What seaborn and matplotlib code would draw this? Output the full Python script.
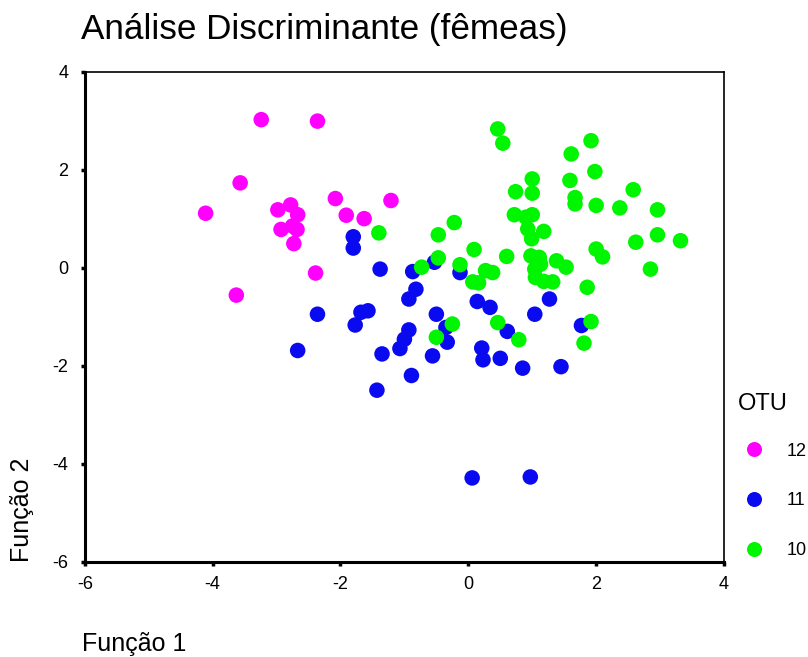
import numpy as np
import pandas as pd
import matplotlib
matplotlib.use("Agg")
import matplotlib.pyplot as plt
import seaborn as sns
from matplotlib.lines import Line2D

# OTU 12 (magenta)
f1_12 = [-3.24, -2.36, -3.57, -4.11, -2.98, -2.78, -2.67, -2.08, -1.21, -1.91, -1.63,
         -2.93, -2.75, -2.68, -2.73, -2.39, -3.63]
f2_12 = [3.02, 2.99, 1.73, 1.11, 1.18, 1.28, 1.08, 1.41, 1.37, 1.07, 1.00,
         0.78, 0.85, 0.78, 0.49, -0.11, -0.56]

# OTU 11 (blue)
f1_11 = [-1.80, -1.80, -1.38, -2.36, -1.68, -1.57, -1.77, -2.67, -1.35, -1.43, -1.07, -1.00,
         -0.93, -0.93, -0.87, -0.89, -0.53, -0.82, -0.50, -0.35, -0.33, -0.56, -0.13, 0.14,
         0.34, 0.21, 0.23, 0.50, 0.61, 0.85, 1.04, 1.27, 1.45, 1.77, 0.06, 0.97]
f2_11 = [0.63, 0.40, -0.03, -0.95, -0.91, -0.88, -1.17, -1.69, -1.76, -2.50, -1.65, -1.46,
         -1.27, -0.64, -0.08, -2.20, 0.11, -0.44, -0.95, -1.22, -1.52, -1.80, -0.10, -0.69,
         -0.81, -1.64, -1.88, -1.85, -1.30, -2.05, -0.95, -0.64, -2.02, -1.18, -4.29, -4.27]

# OTU 10 (green)
f1_10 = [0.46, 0.54, 1.92, 1.61, 1.98, 1.00, 1.59, 0.74, 1.00, 1.67, 1.67, 2.00, 2.37, 2.58,
         2.96, 0.72, 0.90, 1.00, 0.93, 1.18, 0.99, -0.22, -0.47, -1.40, 2.62, 2.96, 3.32,
         2.00, 2.10, 0.09, 0.60, -0.47, 0.98, 1.11, 1.13, 1.04, 1.05, 1.18, 1.32, 1.38,
         1.53, -0.73, -0.13, 0.27, 0.38, 0.07, 0.16, 1.86, 2.85, 0.46, -0.25, 1.92,
         -0.50, 0.79, 1.81]
f2_10 = [2.83, 2.54, 2.59, 2.32, 1.96, 1.81, 1.78, 1.55, 1.52, 1.43, 1.30, 1.27, 1.22, 1.59,
         1.18, 1.08, 1.03, 1.08, 0.79, 0.74, 0.59, 0.92, 0.67, 0.71, 0.52, 0.67, 0.55,
         0.38, 0.22, 0.37, 0.23, 0.20, 0.24, 0.21, 0.07, -0.03, -0.20, -0.28, -0.29, 0.14,
         0.01, 0.01, 0.06, -0.06, -0.10, -0.29, -0.31, -0.40, -0.03, -1.12, -1.15, -1.10,
         -1.42, -1.47, -1.54]

groups = ["12", "11", "10"]
colors = {"12": "#FF00FF", "11": "#0A0AF0", "10": "#00F500"}

df = pd.concat([
    pd.DataFrame({"f1": f1_11, "f2": f2_11, "OTU": "11"}),
    pd.DataFrame({"f1": f1_10, "f2": f2_10, "OTU": "10"}),
    pd.DataFrame({"f1": f1_12, "f2": f2_12, "OTU": "12"}),
], ignore_index=True)

sns.set_style("white")
plt.rcParams['font.family'] = ['Liberation Sans', 'DejaVu Sans']
plt.rcParams['axes.unicode_minus'] = False
plt.rcParams['text.color'] = 'black'
plt.rcParams['xtick.color'] = 'black'
plt.rcParams['ytick.color'] = 'black'

fig = plt.figure(figsize=(8.08, 6.57), dpi=100)
ax = fig.add_axes([0.105, 0.145, 0.791, 0.746])

sns.scatterplot(data=df, x="f1", y="f2", hue="OTU", hue_order=groups, palette=colors,
                s=125, edgecolor="none", linewidth=0, legend=False, ax=ax)

ax.set_xlim(-6, 4)
ax.set_ylim(-6, 4)
ax.set_xticks([-6, -4, -2, 0, 2, 4])
ax.set_yticks([-6, -4, -2, 0, 2, 4])
ax.set_xlabel("")
ax.set_ylabel("")
ax.tick_params(axis="both", direction="out", length=3, width=2.5, labelsize=13,
               color="black", labelcolor="black", bottom=True, left=True)
ax.tick_params(axis="y", pad=9)
ax.tick_params(axis="x", pad=7)
for side in ["left", "bottom"]:
    ax.spines[side].set_linewidth(2.2)
for side in ["top", "right"]:
    ax.spines[side].set_linewidth(1.2)
for sp in ax.spines.values():
    sp.set_color("black")

fig.text(0.100, 0.940, "Análise Discriminante (fêmeas)", fontsize=25.3, ha="left", va="baseline")
fig.text(0.101, 0.009, "Função 1", fontsize=18, ha="left", va="baseline")
fig.text(0.0124, 0.1446, "Função 2", fontsize=18, ha="left", va="bottom", rotation=90)

fig.text(0.913, 0.376, "OTU", fontsize=17, ha="left", va="baseline")
handles = [Line2D([0], [0], marker="o", linestyle="", markersize=10.8,
                  markerfacecolor=colors[g], markeredgecolor="none") for g in groups]
leg = fig.legend(handles, groups, loc="upper left",
                 bbox_to_anchor=(0.922, 0.326), frameon=False, fontsize=13,
                 labelspacing=1.81, handletextpad=1.33, handlelength=1.0,
                 borderpad=0.0, borderaxespad=0.0)

fig.savefig("out.png", dpi=100)
